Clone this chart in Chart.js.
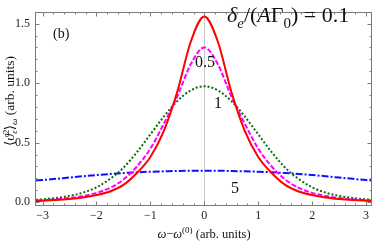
<!DOCTYPE html>
<html>
<head>
<meta charset="utf-8">
<script src="https://cdn.jsdelivr.net/npm/chart.js@4.4.1/dist/chart.umd.min.js"></script>
<style>
html,body{margin:0;padding:0;background:#fff;}
#wrap{width:374px;height:241px;position:relative;}
</style>
</head>
<body>
<div id="wrap"><canvas id="c" width="374" height="241"></canvas></div>
<script>
// ---- data ----
const xValues = [-3.12,-3,-2.75,-2.5,-2.25,-2,-1.75,-1.5,-1.25,-1,-0.75,-0.5,-0.25,0,0.25,0.5,0.75,1,1.25,1.5,1.75,2,2.25,2.5,2.75,3,3.12];
const red     = [0.010,0.012,0.018,0.027,0.040,0.060,0.090,0.145,0.245,0.380,0.600,0.930,1.350,1.560,1.350,0.930,0.600,0.380,0.245,0.145,0.090,0.060,0.040,0.027,0.018,0.012,0.010];
const magenta = [0.015,0.017,0.024,0.035,0.052,0.078,0.120,0.190,0.300,0.450,0.660,0.890,1.160,1.300,1.160,0.890,0.660,0.450,0.300,0.190,0.120,0.078,0.052,0.035,0.024,0.017,0.015];
const green   = [0.020,0.024,0.035,0.053,0.080,0.125,0.195,0.290,0.420,0.570,0.720,0.850,0.940,0.974,0.940,0.850,0.720,0.570,0.420,0.290,0.195,0.125,0.080,0.053,0.035,0.024,0.020];
const blue    = [0.182,0.186,0.196,0.207,0.218,0.228,0.237,0.245,0.251,0.256,0.259,0.262,0.264,0.265,0.264,0.262,0.259,0.256,0.251,0.245,0.237,0.228,0.218,0.207,0.196,0.186,0.182];
const xTicks = [-3,-2,-1,0,1,2,3];
const yTicks = [0,0.5,1.0,1.5];
const seriesLabels = ['0.1','0.5','1','5'];

const SERIF = '"Liberation Serif", "DejaVu Serif", serif';
function pts(ys){ return xValues.map((x,i)=>({x:x,y:ys[i]})); }

function drawRich(ctx, segs, x, y, size, align){
  let w = 0;
  const m = segs.map(s=>{
    const fs = s.pos ? Math.round(size*0.68) : size;
    const f = (s.it?'italic ':'') + fs + 'px ' + SERIF;
    ctx.font = f;
    const ww = ctx.measureText(s.t).width + (s.dx||0);
    const r = {s, f, ww, off: w};
    w += ww;
    return r;
  });
  let x0 = align==='center' ? x - w/2 : (align==='right' ? x - w : x);
  m.forEach(r=>{
    ctx.font = r.f;
    let yy = y;
    if (r.s.pos==='sub') yy = y + size*0.25;
    if (r.s.pos==='sup') yy = y - size*0.4;
    ctx.fillText(r.s.t, x0 + r.off, yy);
  });
  return w;
}

const framePlugin = {
  id:'frame',
  beforeDatasetsDraw(chart){
    const {ctx, chartArea:a, scales:{x}} = chart;
    const px = Math.round(x.getPixelForValue(0)) + 0.5;
    ctx.save();
    ctx.strokeStyle = '#c8c8c8'; ctx.lineWidth = 1;
    ctx.beginPath(); ctx.moveTo(px, a.top); ctx.lineTo(px, a.bottom); ctx.stroke();
    ctx.restore();
  },
  afterDraw(chart){
    const {ctx, chartArea:a, scales:{x,y}} = chart;
    ctx.save();
    ctx.strokeStyle = '#7a7a7a'; ctx.lineWidth = 1;
    const L = Math.round(a.left)+0.5, R = Math.round(a.right)-0.5, T = Math.round(a.top)+0.5, B = Math.round(a.bottom)-0.5;
    ctx.strokeRect(L, T, R-L, B-T);
    ctx.beginPath();
    for (let i=-31;i<=31;i++){
      if (Math.abs(i)%2) continue;
      const v = i/10;
      const major = (i%10===0);
      const p = Math.round(x.getPixelForValue(v))+0.5;
      if (p < L || p > R) continue;
      const len = major?4:2;
      ctx.moveTo(p,B); ctx.lineTo(p,B-len);
      ctx.moveTo(p,T); ctx.lineTo(p,T+len);
    }
    for (let i=0;i<=15;i++){
      const v = i/10;
      const major = (i%5===0);
      const p = Math.round(y.getPixelForValue(v))+0.5;
      if (p < T || p > B) continue;
      const len = major?4:2;
      ctx.moveTo(L,p); ctx.lineTo(L+len,p);
      ctx.moveTo(R,p); ctx.lineTo(R-len,p);
    }
    ctx.stroke();

    ctx.fillStyle = '#111';
    ctx.textBaseline = 'alphabetic';
    ctx.textAlign = 'left';
    ctx.font = '14px ' + SERIF;
    ctx.fillText('(b)', 53, 38);
    drawRich(ctx, [
      {t:'δ', it:true},{t:'e', it:true, pos:'sub'},{t:'/('},{t:'A', it:true},{t:'Γ'},{t:'0', pos:'sub'},{t:') = 0.1'}
    ], 227, 22, 22, 'left');
    ctx.font = '16px ' + SERIF; ctx.textAlign='center';
    ctx.fillText(seriesLabels[1], 205, 67);
    ctx.fillText(seriesLabels[2], 218, 108);
    ctx.fillText(seriesLabels[3], 235, 193);
    ctx.textAlign='left';
    drawRich(ctx, [
      {t:'ω', it:true},{t:'−'},{t:'ω', it:true},{t:'(0)', pos:'sup'},{t:' (arb. units)'}
    ], 204, 238, 12.5, 'center');
    ctx.save();
    ctx.translate(14, 101);
    ctx.rotate(-Math.PI/2);
    drawRich(ctx, [
      {t:'⟨'},{t:'ϑ', it:true},{t:'2', pos:'sup', dx:-4},{t:'ε', it:true, pos:'sub'},{t:'⟩'},{t:'ω', it:true, pos:'sub'},{t:' (arb. units)'}
    ], 0, 0, 13.5, 'center');
    ctx.restore();
    ctx.restore();
  }
};

new Chart(document.getElementById('c'), {
  type:'line',
  data:{
    datasets:[
      {label:seriesLabels[0], data:pts(red), borderColor:'#ff0000', borderWidth:2, pointRadius:0, cubicInterpolationMode:'monotone', fill:false},
      {label:seriesLabels[1], data:pts(magenta), borderColor:'#ff00ff', borderWidth:2, borderDash:[5,2], pointRadius:0, cubicInterpolationMode:'monotone', fill:false},
      {label:seriesLabels[2], data:pts(green), borderColor:'#0b6b0b', borderWidth:2, borderDash:[2,2], pointRadius:0, cubicInterpolationMode:'monotone', fill:false},
      {label:seriesLabels[3], data:pts(blue), borderColor:'#1010ff', borderWidth:2, borderDash:[7,2,2,2], pointRadius:0, cubicInterpolationMode:'monotone', fill:false}
    ]
  },
  options:{
    responsive:false, animation:false, devicePixelRatio:1,
    layout:{padding:{top:2,right:2,left:0,bottom:0}},
    plugins:{legend:{display:false}, tooltip:{enabled:false}},
    scales:{
      x:{type:'linear', min:-3.14, max:3.11,
        afterBuildTicks(s){ s.ticks = xTicks.map(v=>({value:v})); },
        afterFit(s){ s.height = 35; },
        grid:{display:false, drawTicks:false}, border:{display:false},
        ticks:{padding:3, color:'#222', font:{family:SERIF, size:12}, maxRotation:0, autoSkip:false,
          callback:(v)=> (v<0?'\u2212'+Math.abs(v):String(v))}
      },
      y:{type:'linear', min:-0.032, max:1.596,
        afterBuildTicks(s){ s.ticks = yTicks.map(v=>({value:v})); },
        afterFit(s){ s.width = 35; },
        grid:{display:false, drawTicks:false}, border:{display:false},
        ticks:{padding:5, color:'#222', font:{family:SERIF, size:12},
          callback:(v)=> Number(v).toFixed(1)}
      }
    }
  },
  plugins:[framePlugin]
});
</script>
</body>
</html>
